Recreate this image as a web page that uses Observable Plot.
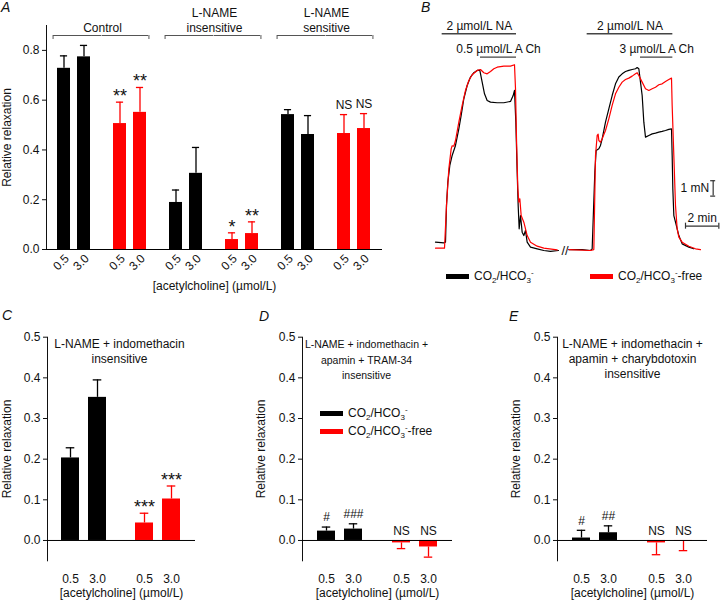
<!DOCTYPE html>
<html><head><meta charset="utf-8">
<script src="https://cdn.jsdelivr.net/npm/d3@7"></script>
<script src="https://cdn.jsdelivr.net/npm/@observablehq/plot@0.6"></script>
<style>
html,body{margin:0;padding:0;background:#fff;}
#fig{position:relative;width:720px;height:604px;overflow:hidden;font-family:"Liberation Sans",Arial,Helvetica,sans-serif;color:#111;}
#fig svg{position:absolute;}
.letter{position:absolute;font-style:italic;font-size:14px;line-height:14px;}
.leg{position:absolute;font-size:12px;line-height:14px;white-space:nowrap;display:flex;align-items:center;}
.sw{display:inline-block;width:23px;height:5px;margin-right:5px;}
.leg sub{font-size:8px;vertical-align:-3px;line-height:0;}
.leg sup{font-size:8px;vertical-align:5px;line-height:0;}
</style></head>
<body><div id="fig"></div>
<script>
// ---------------- data ----------------
const concentrations = ["0.5", "3.0"];
const conditions = ["CO2/HCO3-", "CO2/HCO3--free"];
const xLabel = "[acetylcholine] (\u00b5mol/L)";
const yLabel = "Relative relaxation";

// Panel A (group x condition x concentration)
const aGroups = ["Control", "L-NAME insensitive", "L-NAME sensitive"];
const aGroupLabels = ["Control", "L-NAME\ninsensitive", "L-NAME\nsensitive"];
const aMean = [0.728, 0.774, 0.506, 0.551, 0.189, 0.306, 0.040, 0.064, 0.542, 0.462, 0.466, 0.486];
const aSem  = [0.050, 0.046, 0.086, 0.100, 0.050, 0.104, 0.027, 0.047, 0.020, 0.076, 0.076, 0.060];
const aSig  = ["", "", "**", "**", "", "", "*", "**", "", "", "NS", "NS"];
const aTicks = [0, 0.2, 0.4, 0.6, 0.8];

// Panels C, D, E (condition x concentration)
const cTitle = "L-NAME + indomethacin\ninsensitive";
const cMean = [0.203, 0.352, 0.043, 0.102];
const cSem  = [0.025, 0.043, 0.024, 0.032];
const cSig  = ["", "", "***", "***"];

const dTitle = "L-NAME + indomethacin +\napamin + TRAM-34\ninsensitive";
const dMean = [0.023, 0.028, -0.006, -0.016];
const dSem  = [0.010, 0.013, 0.014, 0.025];
const dSig  = ["#", "###", "NS", "NS"];

const eTitle = "L-NAME + indomethacin +\napamin + charybdotoxin\ninsensitive";
const eMean = [0.006, 0.019, -0.006, -0.002];
const eSem  = [0.019, 0.017, 0.029, 0.023];
const eSig  = ["#", "##", "NS", "NS"];
const cdeTicks = [0, 0.1, 0.2, 0.3, 0.4, 0.5];

// Panel B: force traces (time in min, force in mN)
const seg1BlackT = [0, 0.5, 0.6, 0.66, 0.74, 0.86, 1.0, 1.2, 1.4, 1.54, 1.7, 1.9, 2.1, 2.3, 2.5, 2.66, 2.8, 2.94, 3.1, 3.3, 3.7, 4.1, 4.5, 4.66, 4.74, 4.82, 4.9, 4.96, 5.02, 5.1, 5.2, 5.3, 5.4, 5.5, 5.7, 6.1, 6.5, 6.9, 7.38];
const seg1BlackF = [0.54, 0.50, 0.54, 2.92, 4.44, 5.52, 6.17, 6.82, 7.90, 8.77, 9.85, 10.71, 11.26, 11.54, 11.69, 11.69, 10.93, 10.17, 9.74, 9.63, 9.59, 9.59, 9.68, 10.06, 10.39, 8.33, 5.09, 2.92, 1.41, 2.27, 1.19, 0.97, 1.30, 0.54, 0.22, 0.11, 0.0, -0.06, 0.0];
const seg1RedT = [0, 0.54, 0.66, 0.8, 0.94, 1.0, 1.1, 1.2, 1.4, 1.6, 1.8, 2.0, 2.2, 2.5, 2.7, 2.9, 3.1, 3.3, 3.5, 3.7, 4.1, 4.5, 4.74, 4.8, 4.86, 4.94, 5.0, 5.06, 5.14, 5.3, 5.5, 5.7, 6.1, 6.5, 7.3];
const seg1RedF = [0.15, 0.15, 2.92, 5.30, 6.60, 6.80, 6.77, 7.14, 8.33, 9.42, 10.39, 11.04, 11.41, 11.69, 11.75, 11.54, 11.47, 11.62, 11.80, 11.90, 11.97, 11.97, 12.06, 10.50, 7.25, 4.0, 3.14, 3.36, 2.27, 1.84, 0.97, 0.54, 0.28, 0.15, 0.04];
const seg2BlackT = [8.0, 8.8, 9.3, 9.4, 9.56, 9.64, 9.8, 9.9, 10.0, 10.2, 10.4, 10.6, 10.8, 11.0, 11.2, 11.4, 11.6, 11.8, 12.0, 12.1, 12.2, 12.3, 12.4, 12.5, 12.6, 12.8, 13.0, 13.2, 13.4, 13.6, 13.8, 14.0, 14.16, 14.2, 14.24, 14.3, 14.4, 14.6, 14.8, 15.2, 15.5];
const seg2BlackF = [0.06, 0.06, 0.0, 0.11, 5.09, 6.49, 6.60, 6.82, 7.25, 8.33, 9.20, 10.06, 10.82, 11.26, 11.47, 11.62, 11.69, 11.75, 11.80, 11.88, 11.80, 10.93, 10.06, 8.33, 7.36, 7.47, 7.57, 7.62, 7.68, 7.73, 7.79, 7.86, 7.90, 6.17, 4.0, 2.27, 1.84, 0.97, 0.43, 0.22, 0.11];
const seg2RedT = [8.0, 9.3, 9.5, 9.6, 9.7, 9.76, 9.8, 9.9, 10.0, 10.2, 10.4, 10.6, 10.8, 11.0, 11.2, 11.4, 11.6, 11.8, 12.0, 12.1, 12.2, 12.4, 12.6, 12.8, 13.0, 13.2, 13.4, 13.6, 13.8, 14.0, 14.16, 14.2, 14.3, 14.4, 14.5, 14.6, 14.8, 15.2, 15.6, 15.9];
const seg2RedF = [0.06, 0.0, 0.06, 6.17, 7.47, 7.55, 7.14, 7.03, 7.25, 7.79, 8.55, 9.42, 10.17, 10.6, 10.93, 11.10, 11.19, 11.32, 11.47, 11.54, 11.36, 10.93, 10.50, 10.39, 10.50, 10.60, 10.76, 10.82, 10.97, 11.10, 11.19, 9.42, 6.17, 2.92, 1.41, 0.87, 0.54, 0.28, 0.11, 0.06];

// drug applications (min)
const drugLabels = ["2 \u00b5mol/L NA", "0.5 \u00b5mol/L A Ch", "2 \u00b5mol/L NA", "3 \u00b5mol/L A Ch"];
const drugKind = ["NA", "ACh", "NA", "ACh"];
const drugStart = [0.40, 2.70, 9.10, 12.30];
const drugEnd = [4.86, 4.86, 14.24, 14.24];
const scaleForce = 1;  // mN
const scaleTime = 2;   // min

// ---------------- layout / style ----------------
const BLACK = "#000000", RED = "#ff0000";
const FONT = '"Liberation Sans", Arial, Helvetica, sans-serif';
const PAD_IN = 0.33, PAD_OUT = 0.52;
const A_Y_MAX = 0.9;
const drugLevel = {NA: 14.07, ACh: 12.55};
const forceBarAt = {t: 16.66, f: 3.53};
const timeBarAt = {t: 15.0, f: 1.58};
const breakAt = 7.77;

const fig = document.getElementById("fig");
function place(svg, left, top) { svg.style.left = left + "px"; svg.style.top = top + "px"; fig.appendChild(svg); }
function pairKey(g, c) { return g + " \u00b7 " + c; }

function buildRows(groups, means, sems, sigs) {
  const rows = []; let i = 0;
  for (const g of groups) for (const c of conditions) for (const k of concentrations) {
    const m = means[i], s = sems[i];
    rows.push({group: g, cond: c, conc: k, pair: pairKey(g, c), mean: m, top: m >= 0 ? m + s : m - s, sig: sigs[i]});
    i++;
  }
  return rows;
}

function barPanel(o) {
  const rows = buildRows(o.groups, o.means, o.sems, o.sigs);
  const pairs = o.groups.flatMap(g => conditions.map(c => pairKey(g, c)));
  const fw = (o.width - o.marginLeft - o.marginRight) / pairs.length;
  const step = fw / (2 - PAD_IN + 2 * PAD_OUT);
  const bw = step * (1 - PAD_IN);
  const cap = Math.max(0, (bw - o.capWidth) / 2);
  const isStar = d => /^\*+$/.test(d.sig);
  const labelY = d => d.mean > 0 ? d.top : 0;
  const marks = [
    Plot.barY(rows, {fx: "pair", x: "conc", y1: 0, y2: "mean", fill: "cond"}),
    Plot.ruleX(rows, {fx: "pair", x: "conc", y1: "mean", y2: "top", stroke: "cond", strokeWidth: 1.3}),
    Plot.tickY(rows, {fx: "pair", x: "conc", y: "top", stroke: "cond", strokeWidth: 1.3, insetLeft: cap, insetRight: cap}),
    Plot.ruleY([0], {stroke: "#000", strokeWidth: 1}),
    Plot.text(rows.filter(isStar), {fx: "pair", x: "conc", y: labelY, text: "sig", fontSize: 18, dy: -6}),
    Plot.text(rows.filter(d => d.sig && !isStar(d)), {fx: "pair", x: "conc", y: labelY, text: "sig", fontSize: 12, dy: -9.5}),
    Plot.axisX({tickSize: 0, tickPadding: o.tickPadding, tickRotate: o.tickRotate || 0, dx: o.tickDx || 0, label: null}),
    Plot.text([xLabel], {text: d => d, frameAnchor: "bottom", dy: o.xLabelDy, facet: "super"})
  ];
  if (o.title) marks.push(Plot.text([o.title], {text: d => d, frameAnchor: "top", lineAnchor: "top",
    dx: o.titleDx || 0, dy: o.titleDy || 0, fontSize: o.titleSize || 12, lineHeight: o.titleLineHeight || 1.27, facet: "super"}));
  if (o.extra) marks.push(...o.extra({bw, step}));
  return Plot.plot({
    width: o.width, height: o.height,
    marginLeft: o.marginLeft, marginRight: o.marginRight, marginTop: o.marginTop, marginBottom: o.marginBottom,
    style: {fontSize: "12px", fontFamily: FONT, color: "#111", background: "transparent", overflow: "visible"},
    fx: {domain: pairs, paddingInner: 0, paddingOuter: 0, axis: null},
    x: {domain: concentrations, paddingInner: PAD_IN, paddingOuter: PAD_OUT},
    y: {domain: o.yDomain, ticks: o.yTicks, tickFormat: ".1f", tickSize: 4, tickPadding: 3, line: true,
        label: yLabel, labelAnchor: "center", labelArrow: "none", labelOffset: o.yLabelOffset},
    color: {domain: conditions, range: [BLACK, RED]},
    marks
  });
}

// ---- Panel A ----
const aBrackets = aGroups.map((g, i) => ({label: aGroupLabels[i], black: pairKey(g, conditions[0]), red: pairKey(g, conditions[1])}));
place(barPanel({
  groups: aGroups, means: aMean, sems: aSem, sigs: aSig,
  width: 400, height: 300, marginLeft: 46, marginRight: 18, marginTop: 25, marginBottom: 51,
  yDomain: [0, A_Y_MAX], yTicks: aTicks, yLabelOffset: 44, capWidth: 8,
  tickPadding: 7, tickRotate: -45, tickDx: 3, xLabelDy: 40,
  extra: ({bw, step}) => {
    const topY = () => A_Y_MAX, ext = step * PAD_OUT + 0.5, st = {stroke: "#555", strokeWidth: 1, dy: 10};
    return [
      Plot.ruleY(aBrackets, {fx: "black", y: topY, x1: () => "0.5", x2: () => "3.0", insetLeft: -4, insetRight: -ext, ...st}),
      Plot.ruleY(aBrackets, {fx: "red", y: topY, x1: () => "0.5", x2: () => "3.0", insetLeft: -ext, insetRight: -2, ...st}),
      Plot.ruleX(aBrackets, {fx: "black", x: () => "0.5", y1: topY, y2: topY, insetBottom: -4, dx: -bw / 2 - 4, ...st}),
      Plot.ruleX(aBrackets, {fx: "red", x: () => "3.0", y1: topY, y2: topY, insetBottom: -4, dx: bw / 2 + 2, ...st}),
      Plot.text(aBrackets, {fx: "black", text: "label", frameAnchor: "top-right", textAnchor: "middle", lineAnchor: "bottom", dy: 6, lineHeight: 1.25})
    ];
  }
}), 0, 0);

// ---- Panels C, D, E ----
const cde = {groups: ["all"], width: 240, height: 304, marginTop: 36.7, marginBottom: 43.7,
  yDomain: [-0.05, 0.5], yTicks: cdeTicks, capWidth: 9, tickPadding: 14, xLabelDy: 36};
place(barPanel({...cde, means: cMean, sems: cSem, sigs: cSig, title: cTitle, titleDx: -2,
  marginLeft: 46, marginRight: 45, yLabelOffset: 45}), 0, 300);
place(barPanel({...cde, means: dMean, sems: dSem, sigs: dSig, title: dTitle, titleDx: -11, titleDy: 0.5,
  titleSize: 10.5, titleLineHeight: 1.44, marginLeft: 62, marginRight: 28, yLabelOffset: 46}), 240, 300);
place(barPanel({...cde, means: eMean, sems: eSem, sigs: eSig, title: eTitle, titleDx: 0,
  titleLineHeight: 1.25, marginLeft: 77, marginRight: 13, yLabelOffset: 46}), 480, 300);

// ---- Panel B ----
function traceRows(T, F, cond, seg) { return T.map((t, i) => ({t, f: F[i], cond, seg})); }
const blackRows = [...traceRows(seg1BlackT, seg1BlackF, conditions[0], 1), ...traceRows(seg2BlackT, seg2BlackF, conditions[0], 2)];
const redRows = [...traceRows(seg1RedT, seg1RedF, conditions[1], 1), ...traceRows(seg2RedT, seg2RedF, conditions[1], 2)];
const drugs = drugLabels.map((label, i) => ({label, kind: drugKind[i], start: drugStart[i], end: drugEnd[i], level: drugLevel[drugKind[i]]}));
const fb = {t: forceBarAt.t, f0: forceBarAt.f, f1: forceBarAt.f + scaleForce};
const tb = {t0: timeBarAt.t, t1: timeBarAt.t + scaleTime, f: timeBarAt.f};

place(Plot.plot({
  width: 300, height: 265, marginLeft: 15, marginRight: 0, marginTop: 10, marginBottom: 15,
  style: {fontSize: "12px", fontFamily: FONT, color: "#111", background: "transparent", overflow: "visible"},
  x: {domain: [0, 17.1], axis: null},
  y: {domain: [0, 15.58], axis: null},
  color: {domain: conditions, range: [BLACK, RED]},
  marks: [
    Plot.line(blackRows, {x: "t", y: "f", z: "seg", stroke: "cond", strokeWidth: 1.2}),
    Plot.line(redRows, {x: "t", y: "f", z: "seg", stroke: "cond", strokeWidth: 1.2}),
    Plot.ruleY(drugs, {y: "level", x1: "start", x2: "end", stroke: "#444", strokeWidth: 1.3}),
    Plot.text(drugs, {x: d => (d.start + d.end) / 2, y: "level", text: "label", lineAnchor: "middle", dy: -8}),
    // 1 mN bar
    Plot.ruleX([fb], {x: "t", y1: "f0", y2: "f1", stroke: "#333", strokeWidth: 1.2}),
    Plot.ruleY([fb.f0, fb.f1], {y: d => d, x1: () => fb.t, x2: () => fb.t, insetLeft: -2.5, insetRight: -2.5, stroke: "#333", strokeWidth: 1.2}),
    Plot.text([fb], {x: "t", y: d => (d.f0 + d.f1) / 2, text: () => scaleForce + " mN", textAnchor: "end", dx: -4}),
    // 2 min bar
    Plot.ruleY([tb], {y: "f", x1: "t0", x2: "t1", stroke: "#333", strokeWidth: 1.2}),
    Plot.ruleX([tb.t0, tb.t1], {x: d => d, y1: () => tb.f, y2: () => tb.f, insetTop: -3, insetBottom: -3, stroke: "#333", strokeWidth: 1.2}),
    Plot.text([tb], {x: d => (d.t0 + d.t1) / 2, y: "f", text: () => scaleTime + " min", dy: -8}),
    // axis break
    Plot.text(["//"], {x: () => breakAt, y: () => 0, text: d => d, fontSize: 13})
  ]
}), 420, 0);

// ---- letters & legends ----
function addHTML(html) { const t = document.createElement("template"); t.innerHTML = html.trim(); fig.appendChild(t.content.firstChild); }
[["A", 1, 0], ["B", 421, 0], ["C", 2, 308], ["D", 259, 309], ["E", 509, 309]].forEach(([l, x, y]) =>
  addHTML(`<div class="letter" style="left:${x}px;top:${y}px">${l}</div>`));
const legHTML = [
  `<span class="sw" style="background:${BLACK}"></span><span>CO<sub>2</sub>/HCO<sub>3</sub><sup>-</sup></span>`,
  `<span class="sw" style="background:${RED}"></span><span>CO<sub>2</sub>/HCO<sub>3</sub><sup>-</sup>-free</span>`
];
addHTML(`<div class="leg" style="left:446px;top:269px">${legHTML[0]}</div>`);
addHTML(`<div class="leg" style="left:590px;top:269px">${legHTML[1]}</div>`);
addHTML(`<div class="leg" style="left:320px;top:406px">${legHTML[0]}</div>`);
addHTML(`<div class="leg" style="left:320px;top:424px">${legHTML[1]}</div>`);
</script></body></html>
